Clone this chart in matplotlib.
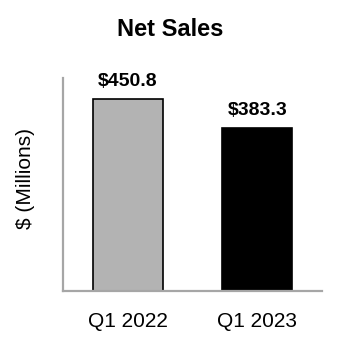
import matplotlib.pyplot as plt

plt.rcParams['font.family'] = ['Liberation Sans', 'DejaVu Sans']

quarters = ['Q1 2022', 'Q1 2023']
net_sales = [450.8, 383.3]
bar_colors = ['#b3b3b3', '#000000']

fig = plt.figure(figsize=(3.42, 3.5), dpi=100)
ax = fig.add_axes([63/342, 59/350, 259/342, 213/350])

x = range(len(quarters))
ax.bar(x, net_sales, width=0.54, color=bar_colors, edgecolor='black', linewidth=1.2)

for xi, v in zip(x, net_sales):
    ax.annotate('$%.1f' % v, (xi, v), xytext=(0, 6.5), textcoords='offset points',
                ha='center', va='bottom', fontsize=14, fontweight='bold')

ax.set_xlim(-0.5, 1.5)
ax.set_ylim(0, 500)
ax.set_xticks(list(x))
ax.set_xticklabels(quarters, fontsize=15)
ax.tick_params(axis='x', length=0, pad=15)
ax.set_yticks([])

for s in ['top', 'right']:
    ax.spines[s].set_visible(False)
for s in ['left', 'bottom']:
    ax.spines[s].set_color('#a6a6a6')
    ax.spines[s].set_linewidth(1.6)

ax.set_ylabel('$ (Millions)', fontsize=15)
ax.yaxis.set_label_coords(-0.108, 0.53)

fig.text(170/342, 1 - 30/350, 'Net Sales', ha='center', va='center',
         fontsize=17, fontweight='bold')

fig.savefig('out.png', dpi=100)
